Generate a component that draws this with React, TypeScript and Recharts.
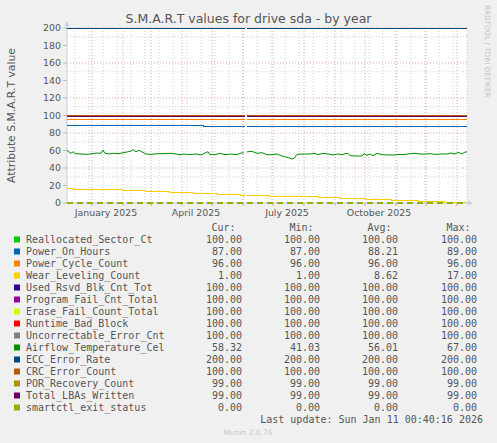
import { LineChart, Line, XAxis, YAxis, CartesianGrid, ReferenceDot, ReferenceLine } from "recharts";

// munin "by year" = last 400 days, x is days since Sat 07 Dec 2024 00:40
const END_DAY = 400;
const GAP_DAY = 179; // no samples around 3 Jun 2025

const NAMES = [
  "Reallocated_Sector_Ct",
  "Power_On_Hours",
  "Power_Cycle_Count",
  "Wear_Leveling_Count",
  "Used_Rsvd_Blk_Cnt_Tot",
  "Program_Fail_Cnt_Total",
  "Erase_Fail_Count_Total",
  "Runtime_Bad_Block",
  "Uncorrectable_Error_Cnt",
  "Airflow_Temperature_Cel",
  "ECC_Error_Rate",
  "CRC_Error_Count",
  "POR_Recovery_Count",
  "Total_LBAs_Written",
  "smartctl_exit_status",
];
const COLORS = [
  "#00CC00", "#0066B3", "#FF8000", "#FFCC00", "#330099", "#990099", "#CCFF00", "#FF0000",
  "#808080", "#008F00", "#00487D", "#B35A00", "#B38F00", "#6B006B", "#8FB300",
];
const CUR = [100, 87, 96, 1, 100, 100, 100, 100, 100, 58.32, 200, 100, 99, 99, 0];
const MIN = [100, 87, 96, 1, 100, 100, 100, 100, 100, 41.03, 200, 100, 99, 99, 0];
const AVG = [100, 88.21, 96, 8.62, 100, 100, 100, 100, 100, 56.01, 200, 100, 99, 99, 0];
const MAX = [100, 89, 96, 17, 100, 100, 100, 100, 100, 67, 200, 100, 99, 99, 0];

const POH_DAYS = [0, 136, 346];
const POH_VALUES = [89, 88, 87];

const WEAR_DAYS = [0, 6, 32, 55, 78, 102, 126, 150, 173, 202, 227, 251, 272, 298, 324, 351, 377];
const WEAR_VALUES = [17, 16, 15, 14, 13, 12, 11, 10, 9, 8, 7, 6, 5, 4, 3, 2, 1];

const TEMP_DAYS = [
  0, 2, 4, 6, 8, 14, 20, 25, 30, 34, 36, 38, 42, 47, 52, 56, 60, 64, 66, 69, 72, 75, 79, 84, 90,
  97, 104, 109, 113, 117, 122, 129, 134, 141, 143, 148, 153, 158, 163, 170, 173, 177, 179, 180,
  183, 186, 190, 195, 200, 205, 210, 215, 220, 225, 227, 230, 236, 243, 248, 251, 256, 261, 266,
  271, 275, 278, 281, 283, 288, 295, 297, 300, 303, 306, 310, 315, 321, 328, 331, 336, 343, 348,
  353, 358, 363, 368, 375, 380, 384, 388, 391, 395, 398, 400,
];
const TEMP_VALUES = [
  60.2, 58.3, 56.8, 58.6, 56.4, 56, 55.6, 56.4, 57.1, 56.8, 60.6, 56.8, 56, 56.8, 56.4, 57.5, 58.3,
  59.4, 61, 58.6, 60.2, 58.3, 56, 55.6, 56.4, 56.4, 56.8, 56, 55.2, 56, 55.2, 56, 54.9, 58.6, 55.2,
  55.2, 56.8, 55.2, 56, 55.2, 56.8, 57.5, null, 58.3, 59, 58.6, 56.8, 57.5, 55.2, 55.2, 56, 53.7,
  52.2, 50.3, 51, 55.6, 56, 56, 56.8, 55.2, 56.8, 56, 54.9, 56, 55.2, 56.4, 56.8, 54.1, 53.7, 53.7,
  56.4, 54.5, 56, 54.1, 56.8, 55.2, 54.9, 54.9, 55.6, 55.2, 56.4, 56.8, 56, 56, 56.4, 55.6, 56, 56,
  57.1, 56, 57.9, 56, 58.3, 58.3,
];

const Y_TICKS = [0, 20, 40, 60, 80, 100, 120, 140, 160, 180, 200];
const Y_MINOR = [10, 30, 50, 70, 90, 110, 130, 150, 170, 190];
// 1st of each month
const MONTH_DAYS = [25, 56, 84, 115, 145, 176, 206, 237, 268, 298, 329, 359, 390];
// every other Sunday
const FORTNIGHT_DAYS = [8, 22, 36, 50, 64, 78, 92, 106, 120, 134, 148, 162, 176, 190, 204, 218, 232,
  246, 260, 274, 288, 302, 316, 330, 344, 358, 372, 386, 400];
const LABEL_DAYS = [39, 129, 220, 312];
const LABELS = ["January 2025", "April 2025", "July 2025", "October 2025"];

const TITLE = "S.M.A.R.T values for drive sda - by year";
const Y_LABEL = "Attribute S.M.A.R.T value";
const LAST_UPDATE = "Last update: Sun Jan 11 00:40:16 2026";
const FOOTER = "Munin 2.0.76";

const TEXT = "#555555";
const AXIS = "#C8CFF2";
const SANS = "'DejaVu Sans', sans-serif";
const MONO = "'DejaVu Sans Mono', monospace";

type Pt = { d: number; v: number | null };

function valueAt(days: number[], values: number[], d: number) {
  let v = values[0];
  for (let i = 0; i < days.length; i++) if (days[i] <= d) v = values[i];
  return v;
}

function stepSeries(days: number[], values: number[]): Pt[] {
  const pts: Pt[] = days.map((d, i) => ({ d, v: values[i] }));
  pts.push({ d: GAP_DAY - 1, v: valueAt(days, values, GAP_DAY - 1) });
  pts.push({ d: GAP_DAY, v: null });
  pts.push({ d: GAP_DAY + 1, v: valueAt(days, values, GAP_DAY + 1) });
  pts.push({ d: END_DAY, v: valueAt(days, values, END_DAY) });
  return pts.sort((a, b) => a.d - b.d);
}

function seriesData(i: number): Pt[] {
  if (i === 1) return stepSeries(POH_DAYS, POH_VALUES);
  if (i === 3) return stepSeries(WEAR_DAYS, WEAR_VALUES);
  if (i === 9) return TEMP_DAYS.map((d, k) => ({ d, v: TEMP_VALUES[k] }));
  return stepSeries([0], [CUR[i]]);
}

const upArrow = (p: any) => (
  <g>
    <line x1={p.cx} y1={p.cy} x2={p.cx} y2={p.cy - 3} stroke={AXIS} />
    <path d={`M${p.cx - 2.5},${p.cy - 2} L${p.cx},${p.cy - 7} L${p.cx + 2.5},${p.cy - 2} Z`} fill={AXIS} />
  </g>
);
const rightArrow = (p: any) => (
  <g>
    <line x1={p.cx} y1={p.cy} x2={p.cx + 2} y2={p.cy} stroke={AXIS} />
    <path d={`M${p.cx + 1},${p.cy - 2.5} L${p.cx + 6},${p.cy} L${p.cx + 1},${p.cy + 2.5} Z`} fill={AXIS} />
  </g>
);

const fmt = (v: number) => v.toFixed(2);
const COL_RIGHT = [242, 320, 398, 477];
const HEADERS = ["Cur:", "Min:", "Avg:", "Max:"];

export default function App() {
  return (
    <div style={{ position: "absolute", left: 0, top: 0, width: 497, height: 443, background: "#F0F0F0" }}>
      <LineChart width={497} height={443} margin={{ top: 28, right: 30, bottom: 220, left: 0 }}>
        <CartesianGrid
          fill="#FFFFFF"
          stroke="#D2D2D2"
          strokeDasharray="1 2"
          horizontalValues={Y_MINOR}
          verticalValues={FORTNIGHT_DAYS}
        />
        <CartesianGrid
          stroke="#E9A3A3"
          strokeDasharray="1 2"
          horizontalValues={Y_TICKS.slice(1)}
          verticalValues={MONTH_DAYS}
        />
        {/* axes drawn as grid so the series at 0 stays on top of them */}
        <CartesianGrid stroke={AXIS} horizontalValues={[0]} verticalValues={[0]} />
        <XAxis
          type="number"
          dataKey="d"
          domain={[0, END_DAY]}
          ticks={LABEL_DAYS}
          tickFormatter={(d: number) => LABELS[LABEL_DAYS.indexOf(d)]}
          tickLine={false}
          tickSize={0}
          tickMargin={6}
          height={20}
          axisLine={false}
          tick={{ fontSize: 9.4, fill: TEXT, fontFamily: SANS }}
        />
        <YAxis
          type="number"
          domain={[0, 200]}
          ticks={Y_TICKS}
          width={67}
          tickSize={4}
          tickMargin={2}
          tickLine={{ stroke: "#B8B8B8" }}
          axisLine={false}
          tick={{ fontSize: 9.4, fill: TEXT, fontFamily: SANS }}
          label={{
            value: Y_LABEL,
            content: (props: any) => {
              const vb = props.viewBox || { x: 0, y: 28, height: 175 };
              return (
                <text
                  transform={`translate(${vb.x + 15},${vb.y + vb.height / 2}) rotate(-90)`}
                  textAnchor="middle"
                  fontSize={10.8}
                  fontFamily={SANS}
                  fill={TEXT}
                >
                  {Y_LABEL}
                </text>
              );
            },
          }}
        />
        {MONTH_DAYS.map((d) => (
          <ReferenceLine
            key={"mt" + d}
            segment={[{ x: d, y: 0 }, { x: d, y: -3 }]}
            stroke="#E08A8A"
            ifOverflow="visible"
          />
        ))}
        {NAMES.map((name, i) => (
          <Line
            key={name}
            name={name}
            data={seriesData(i)}
            dataKey="v"
            type={i === 9 ? "linear" : "stepAfter"}
            stroke={COLORS[i]}
            strokeWidth={i === 14 ? 2 : 1}
            strokeDasharray={i === 14 ? "6 4" : undefined}
            shapeRendering={i === 9 || i === 14 ? undefined : "crispEdges"}
            dot={false}
            activeDot={false}
            connectNulls={false}
            isAnimationActive={false}
          />
        ))}
        <ReferenceDot x={0} y={200} r={0} shape={upArrow} ifOverflow="visible" />
        <ReferenceDot x={END_DAY} y={0} r={0} shape={rightArrow} ifOverflow="visible" />
      </LineChart>

      <svg width={497} height={443} style={{ position: "absolute", left: 0, top: 0, pointerEvents: "none" }}>
        <text x={248.5} y={22.5} textAnchor="middle" fontSize={12.5} fontFamily={SANS} fill={TEXT}>
          {TITLE}
        </text>
        <text transform="translate(484.5,5) rotate(90)" fontSize={7.2} fontFamily={SANS} fill="#C4C4C4">
          RRDTOOL / TOBI OETIKER
        </text>
        <g fontFamily={MONO} fontSize={10} fill={TEXT}>
          {HEADERS.map((h, c) => (
            <text key={h} x={COL_RIGHT[c] - 6.5} y={231} textAnchor="end">
              {h}
            </text>
          ))}
          {NAMES.map((name, i) => {
            const y = 243 + 12 * i;
            return (
              <g key={name}>
                <rect x={14} y={y - 6.5} width={6} height={6} fill={COLORS[i]} />
                <text x={26} y={y}>{name}</text>
                {[CUR[i], MIN[i], AVG[i], MAX[i]].map((v, c) => (
                  <text key={c} x={COL_RIGHT[c]} y={y} textAnchor="end">
                    {fmt(v)}
                  </text>
                ))}
              </g>
            );
          })}
          <text x={483} y={423} textAnchor="end">{LAST_UPDATE}</text>
        </g>
        <text x={248} y={435} textAnchor="middle" fontSize={7.5} fontFamily={SANS} fill="#C8C8C8">
          {FOOTER}
        </text>
      </svg>
    </div>
  );
}
